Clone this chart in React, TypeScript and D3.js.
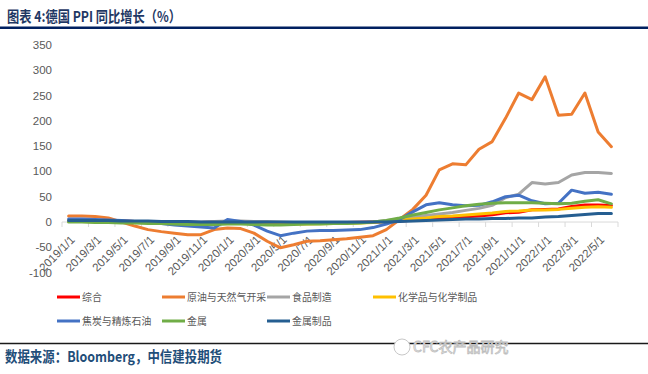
import React from 'react';
import * as d3 from 'd3';

// monthly categories, 2019/1 .. 2022/6
const months = [
  '2019/1/1', '2019/2/1', '2019/3/1', '2019/4/1', '2019/5/1', '2019/6/1',
  '2019/7/1', '2019/8/1', '2019/9/1', '2019/10/1', '2019/11/1', '2019/12/1',
  '2020/1/1', '2020/2/1', '2020/3/1', '2020/4/1', '2020/5/1', '2020/6/1',
  '2020/7/1', '2020/8/1', '2020/9/1', '2020/10/1', '2020/11/1', '2020/12/1',
  '2021/1/1', '2021/2/1', '2021/3/1', '2021/4/1', '2021/5/1', '2021/6/1',
  '2021/7/1', '2021/8/1', '2021/9/1', '2021/10/1', '2021/11/1', '2021/12/1',
  '2022/1/1', '2022/2/1', '2022/3/1', '2022/4/1', '2022/5/1', '2022/6/1',
];

const yTicks = [-100, -50, 0, 50, 100, 150, 200, 250, 300, 350];

const zonghe = [
  2.6, 2.6, 2.4, 2.5, 1.9, 1.2, 1.1, 0.3, -0.1, -0.6, -0.7, -0.2,
  0.2, -0.1, -0.8, -1.9, -2.2, -1.8, -1.7, -1.2, -1.0, -0.7, -0.5, 0.2,
  0.9, 1.9, 3.7, 5.2, 7.2, 8.5, 10.4, 12.0, 14.2, 18.4, 19.2, 24.2,
  25.0, 25.9, 30.9, 33.5, 33.6, 32.7,
];
const crudeOilGas = [
  12, 12, 11, 8, 0, -8, -15, -19, -22, -25, -25, -15,
  -12, -13, -22, -38, -51, -45, -38, -37, -35, -33, -30, -27,
  -15, 5, 25, 53, 103, 115, 113, 144, 159, 205, 255, 242,
  287, 211, 213, 255, 178, 149,
];
const food = [
  2, 2, 2, 1, 1, 1, 0, 0, 0, 0, 0, 1,
  2, 2, 1, 1, 0, -1, -1, -1, -1, -1, -1, 0,
  3, 6, 10, 13, 16, 19, 23, 27, 33, 48, 55, 78,
  75, 78, 93, 98, 98, 96,
];
const chemicals = [
  1, 1, 0.5, 0, -0.5, -1, -1.5, -2, -2, -2.5, -2.5, -2,
  -2, -2.5, -3, -4, -4.5, -4, -4, -3.5, -3, -2.5, -2, -1,
  1, 3, 6, 8, 11, 12, 14, 16, 18, 21, 22, 24,
  24, 25, 27, 29, 30, 29,
];
const coke = [
  6, 6, 5, 4, 3, 1, -1, -3, -6, -8, -10, -12,
  5, 1, -6, -18, -27, -22, -18, -17, -17, -16, -15, -11,
  -4, 5, 20, 34, 38, 34, 32, 33, 40, 50, 53, 42,
  36, 37, 63, 57, 59, 55,
];
const metals = [
  0, 0, -1, -1, -2, -2, -3, -3, -4, -5, -5, -5,
  -4, -4, -5, -6, -6, -5, -4, -4, -3, -3, -2, 0,
  3, 8, 14, 19, 24, 28, 32, 35, 37, 38, 38, 38,
  37, 36, 37, 41, 44, 36,
];
const metalProducts = [
  3, 3, 3, 3, 2, 2, 2, 1, 1, 1, 0, 0,
  0, 0, 0, 0, 0, 0, 0, 0, 0, 0, 0, 0,
  0, 1, 2, 3, 4, 5, 6, 6, 7, 7, 8, 8,
  10, 11, 13, 15, 17, 17,
];

const series = [
  { name: '综合', color: '#FF0000', values: zonghe },
  { name: '原油与天然气开采', color: '#ED7D31', values: crudeOilGas },
  { name: '食品制造', color: '#A5A5A5', values: food },
  { name: '化学品与化学制品', color: '#FFC000', values: chemicals },
  { name: '焦炭与精炼石油', color: '#4472C4', values: coke },
  { name: '金属', color: '#70AD47', values: metals },
  { name: '金属制品', color: '#255E91', values: metalProducts },
];

// legend slots (col x, row y)
const legendPos = [
  [57, 297], [162, 297], [267, 297], [373, 297],
  [57, 321], [162, 321], [267, 321],
];

const W = 648;
const H = 374;
const cjk = '"Noto Sans CJK SC", "Noto Sans", sans-serif';
const latin = '"Liberation Sans", "Noto Sans CJK SC", sans-serif';

export default function App() {
  const x = d3.scaleBand<string>().domain(months).range([62, 618]).paddingInner(0).paddingOuter(0);
  const y = d3.scaleLinear().domain([-100, 350]).range([272.6, 45]);
  const bw = x.bandwidth();
  const cx = (m: string) => (x(m) || 0) + bw / 2;

  const line = d3.line<number>()
    .x((_, i) => cx(months[i]))
    .y(d => y(d));

  const y0 = y(0);
  const tickIdx = d3.range(0, months.length + 1, 2);

  return (
    <div style={{ position: 'absolute', left: 0, top: 0 }}>
      <svg width={W} height={H} style={{ display: 'block', background: '#fff' }}>
        {/* header */}
        <text x={7} y={22} fontFamily={cjk} fontWeight="bold" fontSize={15} fill="#1F3864"
          textLength={174} lengthAdjust="spacingAndGlyphs">
          图表 4:德国 PPI 同比增长（%）
        </text>
        <line x1={0} x2={W} y1={27.8} y2={27.8} stroke="#002060" strokeWidth={2.5} />

        {/* y labels */}
        {yTicks.map(t => (
          <text key={t} x={52} y={y(t)} dy="0.35em" textAnchor="end"
            fontFamily={latin} fontSize={11.5} fill="#595959">{t}</text>
        ))}

        {/* category axis at 0 */}
        <line x1={62} x2={618} y1={y0} y2={y0} stroke="#D9D9D9" strokeWidth={1} />
        {tickIdx.map(k => (
          <line key={k} x1={62 + k * bw} x2={62 + k * bw} y1={y0} y2={y0 + 5}
            stroke="#D9D9D9" strokeWidth={1} />
        ))}
        {months.filter((_, i) => i % 2 === 0).map(m => (
          <text key={m} transform={`translate(${cx(m) + 7},${y0 + 18.5}) rotate(-45)`}
            textAnchor="end" fontFamily={latin} fontSize={11.5} fill="#595959">{m}</text>
        ))}

        {/* series */}
        {series.map(s => (
          <path key={s.name} d={line(s.values) || ''} fill="none" stroke={s.color}
            strokeWidth={3} strokeLinejoin="round" strokeLinecap="round" />
        ))}

        {/* legend */}
        {series.map((s, i) => {
          const [lx, ly] = legendPos[i];
          return (
            <g key={s.name}>
              <line x1={lx} x2={lx + 23} y1={ly} y2={ly} stroke={s.color} strokeWidth={3} />
              <text x={lx + 25} y={ly} dy="0.36em" fontFamily={cjk} fontSize={10.5} fill="#595959"
                textLength={s.name.length * 9.9} lengthAdjust="spacingAndGlyphs">
                {s.name}
              </text>
            </g>
          );
        })}

        {/* footer */}
        <line x1={0} x2={W} y1={343.5} y2={343.5} stroke="#1a1a1a" strokeWidth={1.5} />
        <text x={5} y={362} fontFamily={cjk} fontWeight="bold" fontSize={14.5} fill="#1F4E79"
          textLength={217} lengthAdjust="spacingAndGlyphs">
          数据来源：Bloomberg，中信建投期货
        </text>
        <circle cx={402} cy={347} r={8} fill="#fff" stroke="#c8c8c8" strokeWidth={1} />
        <text x={413} y={352} fontFamily={cjk} fontSize={14} fill="#fff" stroke="#bdbdbd" strokeWidth={0.8}>
          CFC农产品研究
        </text>
      </svg>
    </div>
  );
}
